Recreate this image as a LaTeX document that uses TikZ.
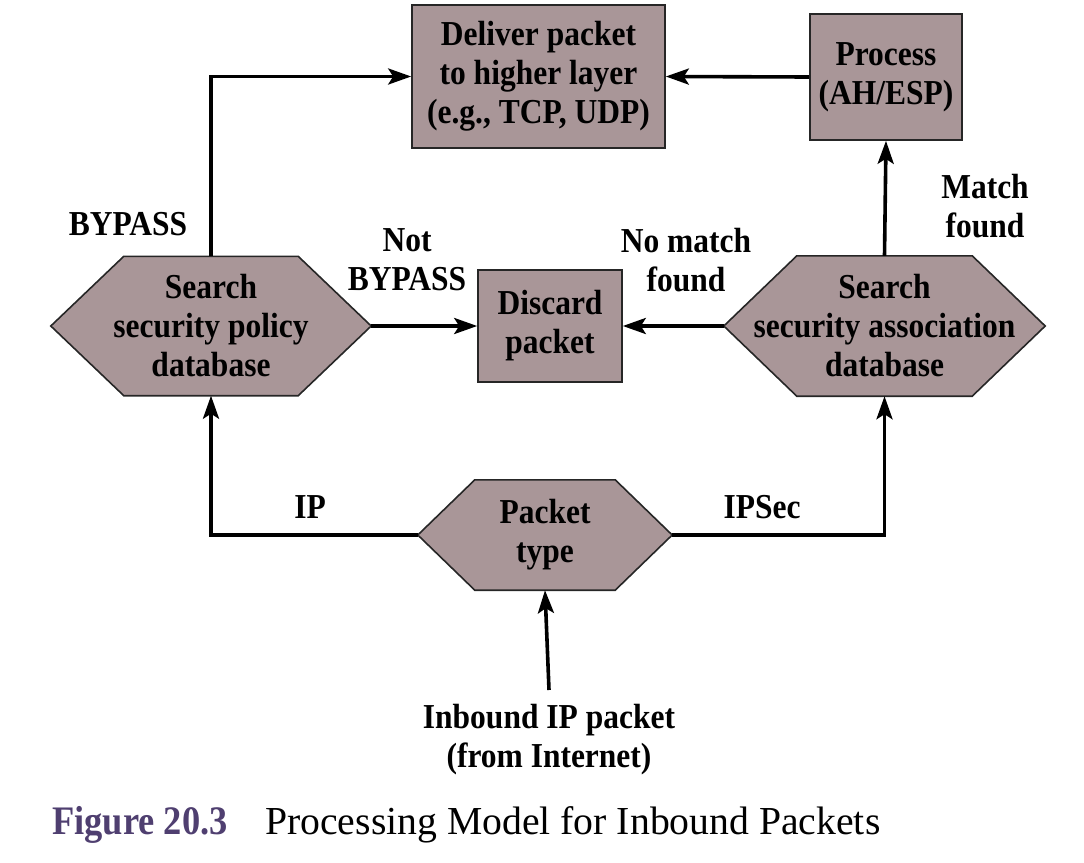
\documentclass[tikz,border=0pt]{standalone}
\usepackage{fontspec}
\setmainfont{Liberation Serif}[FakeStretch=0.9]
\newfontfamily\capfont{Liberation Serif}
\newfontfamily\capboldfont{Liberation Serif Bold}[FakeStretch=0.9]
\usetikzlibrary{arrows.meta,calc,backgrounds}
\definecolor{boxfill}{RGB}{169,150,152}
\definecolor{capcol}{RGB}{79,63,112}
\tikzset{
  lbl/.style={font=\fontsize{35}{39}\selectfont\bfseries, align=center, inner sep=0pt},
  box/.style={lbl, draw=black!85, line width=1.6pt, fill=boxfill},
  hexbox/.style={lbl},
  conn/.style={line width=3.6pt, miter limit=10, -{Stealth[length=23pt,width=16pt,inset=5pt]}},
}
\newcommand{\hexshape}[2]{%
  \begin{pgfonlayer}{background}
  \draw[draw=black!85, line width=1.6pt, fill=boxfill]
    ($(#1.north west)+(#2,0)$) -- ($(#1.north east)+(-#2,0)$) -- (#1.east)
    -- ($(#1.south east)+(-#2,0)$) -- ($(#1.south west)+(#2,0)$) -- (#1.west) -- cycle;
  \end{pgfonlayer}}
\begin{document}
\begin{tikzpicture}[x=1pt,y=-1pt]
\useasboundingbox (0,0) rectangle (1084,862);
% boxes
\node[box, minimum width=253pt, minimum height=143pt] (deliver) at (538.5,76.5)
  {Deliver packet\\to higher layer\\(e.g., TCP, UDP)};
\node[box, minimum width=152pt, minimum height=126pt] (process) at (886,77)
  {Process\\(AH/ESP)};
\node[box, minimum width=144pt, minimum height=112pt] (discard) at (550,326)
  {Discard\\packet};
% hexagons
\node[hexbox, minimum width=320pt, minimum height=139pt] (spd) at (211,326)
  {Search\\security policy\\database};
\hexshape{spd}{73}
\node[hexbox, minimum width=321pt, minimum height=140pt] (sad) at (884.5,326)
  {Search\\security association\\database};
\hexshape{sad}{73}
\node[hexbox, minimum width=254pt, minimum height=110pt] (ptype) at (545,535)
  {Packet\\type};
\hexshape{ptype}{57}
% free text nodes
\node[lbl] (inbound) at (549,740) {Inbound IP packet\\(from Internet)};
\coordinate (inb) at (549,690);
\coordinate (ipc) at (211,535);
\coordinate (ipsc) at (884.5,535);
\coordinate (byc) at (211,76.5);
% connectors
\draw[conn] (inb) -- (ptype.south);
\draw[conn] (ptype.west) -- (ipc) -- (spd.south);
\draw[conn] (ptype.east) -- (ipsc) -- (sad.south);
\draw[conn] (spd.north) -- (byc) -- (deliver.west);
\draw[conn] (spd.east) -- (discard.west);
\draw[conn] (sad.west) -- (discard.east);
\draw[conn] (sad.north) -- (process.south);
\draw[conn] (process.west) -- (deliver.east);
% labels
\node[lbl] (lbypass) at (128,224) {BYPASS};
\node[lbl] (lnot) at (407,260) {Not\\BYPASS};
\node[lbl] (lnomatch) at (686,260) {No match\\found};
\node[lbl] (lmatch) at (985,206) {Match\\found};
\node[lbl] (lip) at (310,507) {IP};
\node[lbl] (lipsec) at (762,507) {IPSec};
% caption
\node[anchor=base west, inner sep=0pt, font=\capboldfont\fontsize{40.5}{44}\selectfont, text=capcol] (capnum) at (52,834) {Figure 20.3};
\node[anchor=base west, inner sep=0pt, font=\capfont\fontsize{39.7}{44}\selectfont] (captxt) at (265,834) {Processing Model for Inbound Packets};
\end{tikzpicture}
\end{document}
